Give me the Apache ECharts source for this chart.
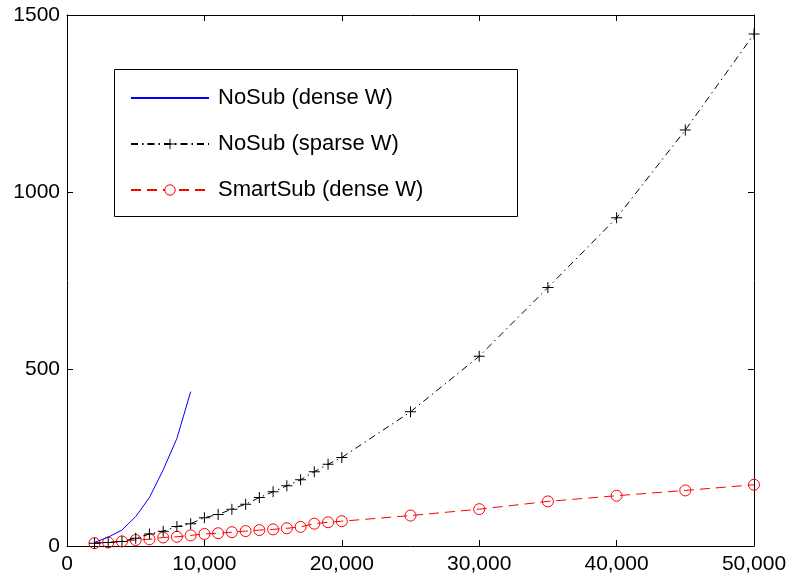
<!DOCTYPE html>
<html>
<head>
<meta charset="utf-8">
<script src="https://cdn.jsdelivr.net/npm/echarts@6/dist/echarts.min.js"></script>
<style>html,body{margin:0;padding:0;background:#fff;}#c{width:794px;height:581px;}</style>
</head>
<body>
<div id="c"></div>
<script>
var xTicks = [0, 10000, 20000, 30000, 40000, 50000];
var yTicks = [0, 500, 1000, 1500];
var xDense = [2000, 3000, 4000, 5000, 6000, 7000, 8000, 9000];
var noSubDense = [10, 25, 45, 83, 137, 215, 304, 436];
var xFull = [2000, 3000, 4000, 5000, 6000, 7000, 8000, 9000, 10000, 11000, 12000, 13000, 14000, 15000, 16000, 17000, 18000, 19000, 20000, 25000, 30000, 35000, 40000, 45000, 50000];
var noSubSparse = [8, 10, 13, 22, 34, 42, 55, 63, 80, 89, 104, 118, 137, 153, 170, 187, 210, 231, 250, 379, 536, 730, 927, 1175, 1446];
var smartSubDense = [8, 10, 13, 17, 19, 24, 26, 30, 34, 36, 39, 42, 45, 47, 50, 54, 63, 67, 70, 86, 104, 126, 142, 157, 173];
var seriesNames = ['NoSub (dense W)', 'NoSub (sparse W)', 'SmartSub (dense W)'];

function pairs(xs, ys) { return xs.map(function (x, i) { return [x, ys[i]]; }); }
var FONT = '"Liberation Sans", Arial, Helvetica, sans-serif';
var plus = 'path://M5,0 L6,0 L6,5 L11,5 L11,6 L6,6 L6,11 L5,11 L5,6 L0,6 L0,5 L5,5 Z';

var chart = echarts.init(document.getElementById('c'), null, {renderer: 'canvas'});
var axisCommon = {
  axisLine: {show: true, onZero: false, lineStyle: {color: '#000', width: 1}},
  axisTick: {show: true, inside: true, length: 6, lineStyle: {color: '#000'}},
  splitLine: {show: false}
};
chart.setOption({
  animation: false,
  backgroundColor: '#fff',
  grid: {left: 67, right: 40, top: 15, bottom: 35, containLabel: false},
  xAxis: [
    Object.assign({type: 'value', position: 'bottom', min: xTicks[0], max: xTicks[xTicks.length - 1], interval: xTicks[1] - xTicks[0],
      axisLabel: {color: '#000', fontSize: 21, fontFamily: FONT, margin: 8,
        formatter: function (v) { return v.toLocaleString('en-US'); }}}, axisCommon),
    Object.assign({type: 'value', position: 'top', min: xTicks[0], max: xTicks[xTicks.length - 1], interval: xTicks[1] - xTicks[0],
      axisLabel: {show: false}}, axisCommon)
  ],
  yAxis: [
    Object.assign({type: 'value', position: 'left', min: yTicks[0], max: yTicks[yTicks.length - 1], interval: yTicks[1] - yTicks[0],
      axisLabel: {color: '#000', fontSize: 21, fontFamily: FONT, margin: 7,
        formatter: function (v) { return String(v); }}}, axisCommon),
    Object.assign({type: 'value', position: 'right', min: yTicks[0], max: yTicks[yTicks.length - 1], interval: yTicks[1] - yTicks[0],
      axisLabel: {show: false}}, axisCommon)
  ],
  graphic: [{
    type: 'rect', left: 114, top: 69, z: 10,
    shape: {width: 403, height: 147},
    style: {fill: '#fff', stroke: '#000', lineWidth: 1}
  }],
  legend: {
    orient: 'vertical', left: 130, top: 87, z: 20, padding: 0,
    itemWidth: 78, itemHeight: 13, itemGap: 24,
    textStyle: {color: '#000', fontSize: 22, fontFamily: FONT, lineHeight: 22, padding: [0, 0, 0, 4]},
    data: [
      {name: seriesNames[0], itemStyle: {opacity: 0}},
      {name: seriesNames[1]},
      {name: seriesNames[2], itemStyle: {color: '#fff', borderColor: '#ff0000', borderWidth: 1}}
    ],
    selectedMode: false
  },
  series: [
    {name: seriesNames[0], type: 'line', data: pairs(xDense, noSubDense), showSymbol: false, symbol: 'none',
      lineStyle: {color: '#0000ff', width: 1}, itemStyle: {color: '#0000ff'}, z: 3},
    {name: seriesNames[1], type: 'line', data: pairs(xFull, noSubSparse), symbol: plus, symbolSize: 11,
      lineStyle: {color: '#000', width: 1, type: [7, 4, 1.5, 4]}, itemStyle: {color: '#000'}, z: 2},
    {name: seriesNames[2], type: 'line', data: pairs(xFull, smartSubDense), symbol: 'circle', symbolSize: 11,
      lineStyle: {color: '#ff0000', width: 1, type: [10, 6]}, itemStyle: {color: 'rgba(0,0,0,0)', borderColor: '#ff0000', borderWidth: 1}, z: 1}
  ]
});
</script>
</body>
</html>
